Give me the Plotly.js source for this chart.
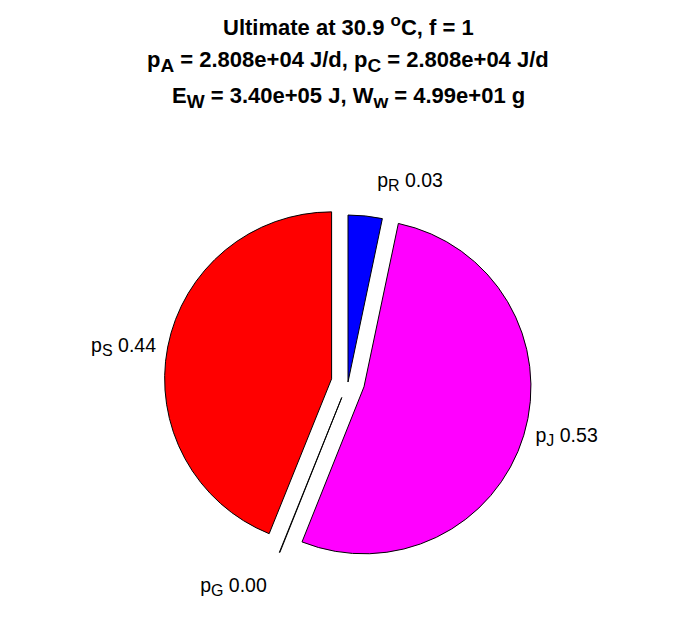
<!DOCTYPE html>
<html>
<head>
<meta charset="utf-8">
<script src="https://cdn.plot.ly/plotly-3.0.1.min.js"></script>
<style>html,body{margin:0;padding:0;background:#fff;}#chart{width:696px;height:618px;}</style>
</head>
<body>
<div id="chart"></div>
<script>
const sliceLabels = ['p<sub><span style="font-size:16px">R</span></sub>', 'p<sub><span style="font-size:16px">J</span></sub>', 'p<sub><span style="font-size:16px">G</span></sub>', 'p<sub><span style="font-size:16px">S</span></sub>'];
const sliceValues = [0.033, 0.5275, 0.0005, 0.439];
const sliceColors = ['#0000ff', '#ff00ff', '#ffffff', '#ff0000'];
const slicePull = [0, 0.1, 0.1, 0.1];
const labelTemplates = ['%{label} %{value:.2f}<br>&nbsp;', '&nbsp;%{label} %{value:.2f}', '&nbsp;<br>%{label} %{value:.2f}', '%{label} %{value:.2f}&nbsp;'];
const titleLines = [
  'Ultimate at 30.9 <sup><span style="font-size:17px">o</span></sup>C, f = 1',
  'p<sub><span style="font-size:19px">A</span></sub> = 2.808e+04 J/d, p<sub><span style="font-size:19px">C</span></sub> = 2.808e+04 J/d',
  'E<sub><span style="font-size:19px">W</span></sub> = 3.40e+05 J, W<sub><span style="font-size:19px">w</span></sub> = 4.99e+01 g'
];
const titleY = [0.958, 0.901, 0.843];

const trace = {
  type: 'pie',
  labels: sliceLabels,
  values: sliceValues,
  sort: false,
  direction: 'clockwise',
  rotation: 0,
  pull: slicePull,
  marker: {colors: sliceColors, line: {color: '#000000', width: 1}},
  texttemplate: labelTemplates,
  textposition: 'outside',
  textfont: {family: 'Liberation Sans, Arial, sans-serif', size: 19.5, color: '#000000'},
  hoverinfo: 'none',
  domain: {x: [0.2361, 0.7639], y: [0.0846, 0.6791]}
};

const layout = {
  width: 696, height: 618,
  margin: {l: 0, r: 0, t: 0, b: 0},
  paper_bgcolor: '#ffffff',
  plot_bgcolor: '#ffffff',
  showlegend: false,
  annotations: titleLines.map((t, i) => ({
    text: t, xref: 'paper', yref: 'paper', x: 0.5, y: titleY[i],
    xanchor: 'center', yanchor: 'middle', showarrow: false,
    font: {family: 'Liberation Sans, Arial, sans-serif', size: 22, color: '#000000', weight: 'bold'}
  }))
};

Plotly.newPlot('chart', [trace], layout, {displayModeBar: false, staticPlot: true});
</script>
</body>
</html>
